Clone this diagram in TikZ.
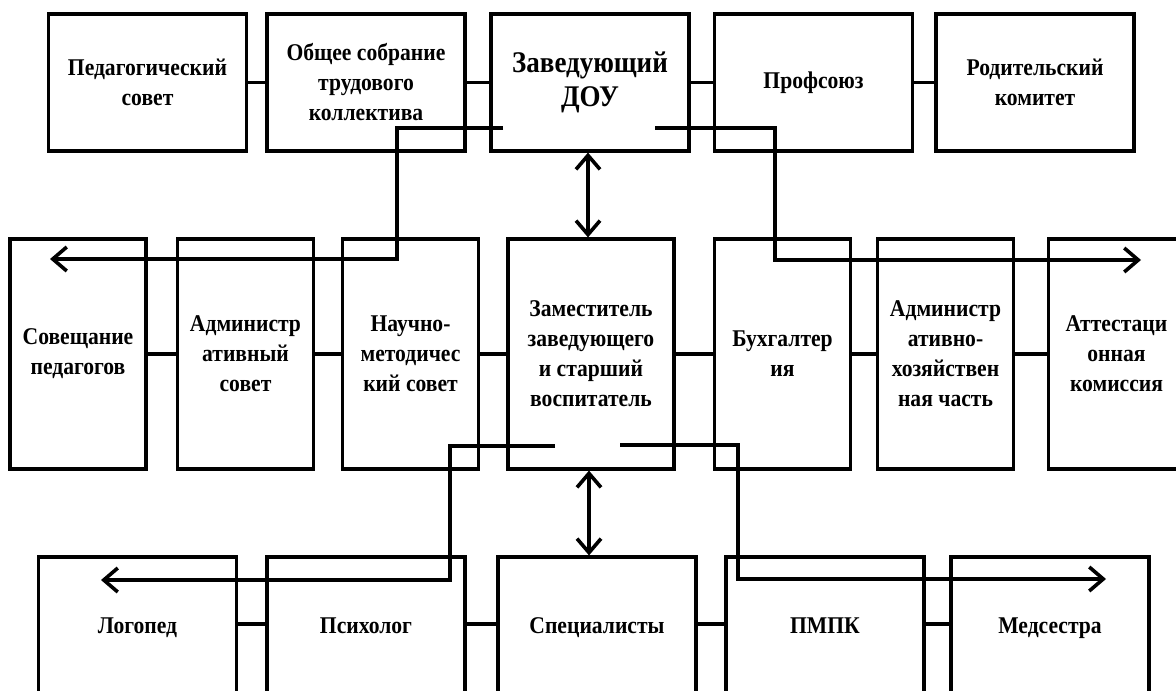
\documentclass[tikz,border=0pt]{standalone}
\usepackage{fontspec}
\setmainfont{Liberation Serif}[FakeStretch=0.9]
\usetikzlibrary{arrows.meta}
\begin{document}
\begin{tikzpicture}[x=0.5pt,y=-0.5pt,
		unit/.style={rectangle,draw,line width=1.6pt,inner sep=0pt,align=center,
			font=\bfseries\fontsize{12}{15}\selectfont},
		toprow/.style={unit,minimum width=99pt,minimum height=68.5pt},
		midrow/.style={unit,minimum width=68pt,minimum height=115pt},
		botrow/.style={unit,minimum width=99pt,minimum height=70pt,text height=9pt,text depth=3pt},
		link/.style={line width=1.8pt},
		arrow/.style={link,-{Straight Barb[length=7pt,width=12pt]}},
		both/.style={link,{Straight Barb[length=7pt,width=12pt]}-{Straight Barb[length=7pt,width=12pt]}}]
	\useasboundingbox (0,0) rectangle (1176,690);
	\clip (0,0) rectangle (1176,690);
	% top row
	\node[toprow] (ped) at (147.5,82.5) {Педагогический\\совет};
	\node[toprow] (obs) at (366,82.5) {Общее собрание\\трудового\\коллектива};
	\node[toprow,font=\bfseries\fontsize{15}{17}\selectfont] (zav) at (590,82.5) {Заведующий\\ДОУ};
	\node[toprow,text height=9pt,text depth=3pt] (prof) at (813.5,82.5) {Профсоюз};
	\node[toprow] (rod) at (1035,82.5) {Родительский\\комитет};
	% middle row
	\node[midrow] (sov) at (78,354) {Совещание\\педагогов};
	\node[midrow] (adm) at (245.5,354) {Администр\\ативный\\совет};
	\node[midrow] (nms) at (410.5,354) {Научно-\\методичес\\кий совет};
	\node[midrow,minimum width=83pt] (zam) at (591,354) {Заместитель\\заведующего\\и старший\\воспитатель};
	\node[midrow] (buh) at (782.5,354) {Бухгалтер\\ия};
	\node[midrow] (ahc) at (945.5,354) {Администр\\ативно-\\хозяйствен\\ная часть};
	\node[midrow] (att) at (1116.5,354) {Аттестаци\\онная\\комиссия};
	% bottom row
	\node[botrow] (log) at (137.5,627) {Логопед};
	\node[botrow] (psy) at (366,627) {Психолог};
	\node[botrow] (spec) at (597,627) {Специалисты};
	\node[botrow] (pmpk) at (825,627) {ПМПК};
	\node[botrow] (med) at (1050,627) {Медсестра};
	% links within rows
	\draw[link] (ped) -- (obs);
	\draw[link] (obs) -- (zav);
	\draw[link] (zav) -- (prof);
	\draw[link] (prof) -- (rod);
	\draw[link] (sov) -- (adm);
	\draw[link] (adm) -- (nms);
	\draw[link] (nms) -- (zam);
	\draw[link] (zam) -- (buh);
	\draw[link] (buh) -- (ahc);
	\draw[link] (ahc) -- (att);
	\draw[link] (log.east |- 624,624) -- (psy.west |- 624,624);
	\draw[link] (psy.east |- 624,624) -- (spec.west |- 624,624);
	\draw[link] (spec.east |- 624,624) -- (pmpk.west |- 624,624);
	\draw[link] (pmpk.east |- 624,624) -- (med.west |- 624,624);
	% vertical double arrows
	\draw[both] (zav.south -| 588,0) -- (zam.north -| 588,0);
	\draw[both] (zam.south -| 589,0) -- (spec.north -| 589,0);
	% branching arrows
	\coordinate (zavL) at (503,128);
	\coordinate (zavR) at (655,128);
	\coordinate (zamL) at (555,446);
	\coordinate (zamR) at (620,445);
	\coordinate (sovTip) at (50,259);
	\coordinate (attTip) at (1141,260);
	\coordinate (logTip) at (101,580);
	\coordinate (medTip) at (1106,579);
	\draw[arrow] (zavL) -- ++(-106,0) |- (sovTip);
	\draw[arrow] (zavR) -- ++(120,0) |- (attTip);
	\draw[arrow] (zamL) -- ++(-105,0) |- (logTip);
	\draw[arrow] (zamR) -- ++(118,0) |- (medTip);
\end{tikzpicture}
\end{document}
